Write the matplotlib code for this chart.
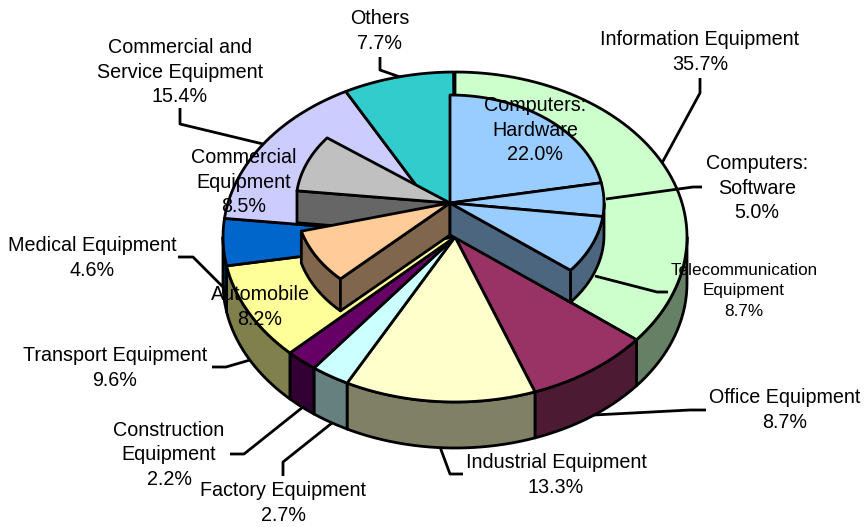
import numpy as np
import matplotlib
matplotlib.use("Agg")
import matplotlib.pyplot as plt

# outer ring, clockwise from 12 o'clock
outer_names = ["Information Equipment", "Office Equipment", "Industrial Equipment", "Factory Equipment",
               "Construction Equipment", "Transport Equipment", "Medical Equipment",
               "Commercial and Service Equipment", "Others"]
outer_vals = [35.7, 8.7, 13.3, 2.7, 2.2, 9.6, 4.6, 15.4, 7.7]

# raised slices, each starts on the edge of its outer slice
info_parts = [22.0, 5.0, 8.7]
transport_part = 8.2
commercial_part = 8.5

outer_c = ["#CCFFCC", "#993366", "#FFFFCC", "#CCFFFF", "#660066", "#FFFF99", "#0066CC", "#CCCCFF", "#33CCCC"]
side_c = ["#668066", "#4D1A33", "#808066", "#668080", "#330033", "#80804D", "#003366", "#666680", "#1A6666"]

# pixel geometry of the fake 3d pie
cx, cy, rx, ry, depth = 455, 237, 232, 165, 46
in_cx, in_cy, in_rx, in_ry, in_depth = 450, 203, 154, 108, 32
lw = 2.0


def arc(start, end, x0, y0, a, b):
    t = np.radians(np.linspace(start, end, max(int(abs(end - start)) * 2, 2))) * 3.6
    return x0 + a * np.sin(t), y0 - b * np.cos(t)


def rim(ax, start, end, x0, y0, a, b, d, color):
    # only the front half of a wedge shows its wall
    s, e = max(start, 25.0), min(end, 75.0)
    if e <= s:
        return
    x, y = arc(s, e, x0, y0, a, b)
    ax.fill(np.r_[x, x[::-1]], np.r_[y, y[::-1] + d], fc=color, ec="k", lw=lw, joinstyle="round")


def top(ax, start, end, x0, y0, a, b, color):
    x, y = arc(start, end, x0, y0, a, b)
    ax.fill(np.r_[x0, x], np.r_[y0, y], fc=color, ec="k", lw=lw, joinstyle="round")


def radial(ax, pct, color):
    # cut face of a raised slice, from the centre out to the rim
    x, y = arc(pct, pct, in_cx, in_cy, in_rx, in_ry)
    xs = [in_cx, x[0], x[0], in_cx]
    ys = [in_cy, y[0], y[0] + in_depth, in_cy + in_depth]
    ax.fill(xs, ys, fc=color, ec="k", lw=lw, joinstyle="round")


fig = plt.figure(figsize=(8.66, 5.27), dpi=100)
ax = fig.add_axes([0, 0, 1, 1])
ax.set_xlim(0, 866)
ax.set_ylim(527, 0)
ax.axis("off")

edges = np.r_[0, np.cumsum(outer_vals)]

# === main pie ===
for i in range(len(outer_vals)):
    rim(ax, edges[i], edges[i + 1], cx, cy, rx, ry, depth, side_c[i])
for i in range(len(outer_vals)):
    top(ax, edges[i], edges[i + 1], cx, cy, rx, ry, outer_c[i])

# === raised slices ===
# commercial equipment
s = edges[7]
e = s + commercial_part
radial(ax, s, "#666666")
top(ax, s, e, in_cx, in_cy, in_rx, in_ry, "#C0C0C0")

# automobile
s = edges[5]
e = s + transport_part
rim(ax, s, e, in_cx, in_cy, in_rx, in_ry, in_depth, "#80664D")
radial(ax, s, "#80664D")
top(ax, s, e, in_cx, in_cy, in_rx, in_ry, "#FFCC99")

# computers / telecom
info_edges = np.r_[0, np.cumsum(info_parts)]
rim(ax, 0, info_edges[-1], in_cx, in_cy, in_rx, in_ry, in_depth, "#4D6680")
radial(ax, info_edges[-1], "#4D6680")
for i in range(len(info_parts)):
    top(ax, info_edges[i], info_edges[i + 1], in_cx, in_cy, in_rx, in_ry, "#99CCFF")

# === leader lines ===
leaders = [
    [(380, 57), (380, 70), (400, 77)],
    [(700, 78), (700, 93), (662, 163)],
    [(606, 199), (693, 187), (702, 187)],
    [(595, 276), (657, 292), (668, 292)],
    [(594, 415), (690, 410), (706, 410)],
    [(440, 447), (450, 474), (463, 474)],
    [(332, 423), (283, 462), (283, 476)],
    [(303, 407), (244, 454), (230, 454)],
    [(250, 360), (226, 367), (212, 367)],
    [(178, 257), (193, 257), (224, 288)],
    [(180, 108), (180, 124), (263, 144)],
]
for pts in leaders:
    ax.plot(*zip(*pts), color="k", lw=lw, solid_capstyle="butt")

# === labels ===
labels = [
    ("Others\n7.7%", 380, 31, 14.2),
    ("Information Equipment\n35.7%", 700, 52, 14.2),
    ("Computers:\nSoftware\n5.0%", 757, 188, 14.2),
    ("Telecommunication\nEquipment\n8.7%", 744, 291, 12.3),
    ("Office Equipment\n8.7%", 785, 410, 14.2),
    ("Industrial Equipment\n13.3%", 556, 475, 14.2),
    ("Factory Equipment\n2.7%", 283, 503, 14.2),
    ("Construction\nEquipment\n2.2%", 169, 455, 14.2),
    ("Transport Equipment\n9.6%", 115, 368, 14.2),
    ("Medical Equipment\n4.6%", 92, 258, 14.2),
    ("Commercial and\nService Equipment\n15.4%", 180, 72, 14.2),
    ("Commercial\nEquipment\n8.5%", 244, 182, 14.2),
    ("Automobile\n8.2%", 260, 307, 14.2),
    ("Computers:\nHardware\n22.0%", 535, 130, 14.2),
]
for txt, x, y, fs in labels:
    ax.text(x, y, txt, ha="center", va="center", fontsize=fs, color="k",
            family="Liberation Sans", linespacing=1.36 if fs > 13 else 1.45)

fig.savefig("out.png", dpi=100, facecolor="white")
